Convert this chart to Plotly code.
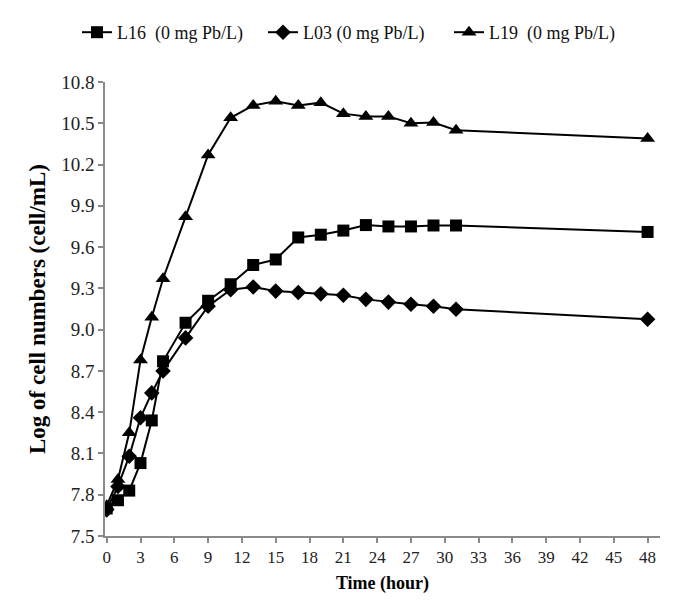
import plotly.graph_objects as go

time_h = [0, 1, 2, 3, 4, 5, 7, 9, 11, 13, 15, 17, 19, 21, 23, 25, 27, 29, 31, 48]
l16 = [7.70, 7.76, 7.83, 8.03, 8.34, 8.77, 9.05, 9.21, 9.33, 9.47, 9.51, 9.67, 9.69, 9.72, 9.76, 9.75, 9.75, 9.757, 9.757, 9.71]
l03 = [7.69, 7.86, 8.08, 8.36, 8.54, 8.70, 8.94, 9.17, 9.29, 9.31, 9.28, 9.27, 9.26, 9.25, 9.22, 9.20, 9.185, 9.17, 9.148, 9.076]
l19 = [7.72, 7.91, 8.25, 8.78, 9.09, 9.37, 9.82, 10.27, 10.54, 10.63, 10.66, 10.63, 10.65, 10.57, 10.55, 10.55, 10.50, 10.505, 10.45, 10.39]
names = ["L16  (0 mg Pb/L)", "L03 (0 mg Pb/L)", "L19  (0 mg Pb/L)"]
x_ticks = list(range(0, 49, 3))
y_ticks = [7.5, 7.8, 8.1, 8.4, 8.7, 9.0, 9.3, 9.6, 9.9, 10.2, 10.5, 10.8]

font_family = "Liberation Serif, Times New Roman, serif"

fig = go.Figure()
for ys, nm, sym, sz in [(l16, names[0], "square", 12), (l03, names[1], "diamond", 12), (l19, names[2], "triangle-up", 13)]:
    fig.add_trace(go.Scatter(
        x=time_h, y=ys, name=nm, mode="lines+markers",
        line=dict(color="black", width=2),
        marker=dict(symbol=sym, size=sz, color="black", line=dict(width=0)),
    ))

axis_common = dict(
    showgrid=False, zeroline=False, showline=True, linecolor="#8a8a8a", linewidth=1.5,
    ticks="outside", ticklen=5, tickcolor="#8a8a8a", tickwidth=1.5,
)

fig.update_layout(
    width=700, height=607,
    paper_bgcolor="white", plot_bgcolor="white",
    margin=dict(l=105, r=40, t=82, b=71, autoexpand=False),
    font=dict(family=font_family, color="black"),
    showlegend=True,
    legend=dict(orientation="h", x=356 / 700, xanchor="center", xref="container",
                y=1 - 14 / 607, yanchor="top", yref="container",
                font=dict(family=font_family, size=18, color="#111111"),
                entrywidth=141, entrywidthmode="pixels", borderwidth=0),
    xaxis=dict(range=[-0.15, 49.1], tickvals=x_ticks,
               tickfont=dict(family=font_family, size=17, color="#222222"),
               title=dict(text="<b>Time (hour)</b>", font=dict(family=font_family, size=18), standoff=10),
               **axis_common),
    yaxis=dict(range=[7.5, 10.8], tickvals=y_ticks, tickformat=".1f",
               tickfont=dict(family=font_family, size=19, color="#222222"),
               title=dict(text="<b>Log of cell numbers (cell/mL)</b>", font=dict(family=font_family, size=23), standoff=9),
               **axis_common),
)

fig.write_html("out.html")
